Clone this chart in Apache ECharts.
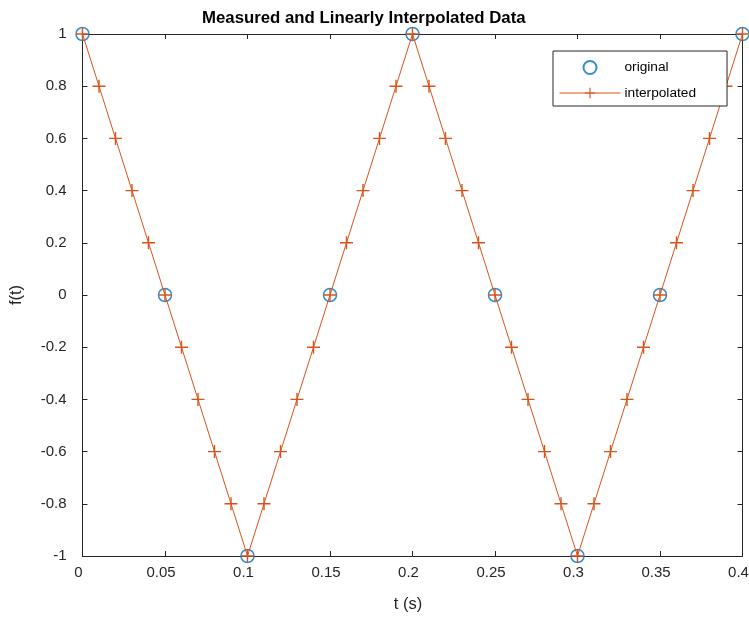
<!DOCTYPE html>
<html>
<head>
<meta charset="utf-8">
<script src="https://cdn.jsdelivr.net/npm/echarts@6/dist/echarts.min.js"></script>
<style>html,body{margin:0;padding:0;background:#fff}#c{width:749px;height:618px}</style>
</head>
<body>
<div id="c"></div>
<script>
var titleText = 'Measured and Linearly Interpolated Data';
var xName = 't (s)';
var yName = 'f(t)';
var seriesNames = ['original', 'interpolated'];

var tOriginal = [0, 0.05, 0.1, 0.15, 0.2, 0.25, 0.3, 0.35, 0.4];
var fOriginal = [1, 0, -1, 0, 1, 0, -1, 0, 1];

var tInterp = [0, 0.01, 0.02, 0.03, 0.04, 0.05, 0.06, 0.07, 0.08, 0.09,
               0.1, 0.11, 0.12, 0.13, 0.14, 0.15, 0.16, 0.17, 0.18, 0.19,
               0.2, 0.21, 0.22, 0.23, 0.24, 0.25, 0.26, 0.27, 0.28, 0.29,
               0.3, 0.31, 0.32, 0.33, 0.34, 0.35, 0.36, 0.37, 0.38, 0.39, 0.4];
var fInterp = [1, 0.8, 0.6, 0.4, 0.2, 0, -0.2, -0.4, -0.6, -0.8,
               -1, -0.8, -0.6, -0.4, -0.2, 0, 0.2, 0.4, 0.6, 0.8,
               1, 0.8, 0.6, 0.4, 0.2, 0, -0.2, -0.4, -0.6, -0.8,
               -1, -0.8, -0.6, -0.4, -0.2, 0, 0.2, 0.4, 0.6, 0.8, 1];

var xTicks = [0, 0.05, 0.1, 0.15, 0.2, 0.25, 0.3, 0.35, 0.4];
var yTicks = [-1, -0.8, -0.6, -0.4, -0.2, 0, 0.2, 0.4, 0.6, 0.8, 1];

var axisColor = '#262626';
var font = 'Liberation Sans, Arial, Helvetica, sans-serif';
var plusPath = 'path://M-0.65,-6 L0.65,-6 L0.65,-0.65 L6,-0.65 L6,0.65 L0.65,0.65 L0.65,6 L-0.65,6 L-0.65,0.65 L-6,0.65 L-6,-0.65 L-0.65,-0.65 Z';

function zip(a, b) { return a.map(function (v, i) { return [v, b[i]]; }); }
function fmt(v) { return String(+(+v).toFixed(3)); }

var chart = echarts.init(document.getElementById('c'), null, {renderer: 'canvas'});
var commonX = {
  type: 'value', min: xTicks[0], max: xTicks[xTicks.length - 1], interval: 0.05,
  splitLine: {show: false},
  axisLine: {show: true, onZero: false, lineStyle: {color: axisColor, width: 1}},
  axisTick: {show: true, inside: true, length: 5, lineStyle: {color: axisColor}},
};
var commonY = {
  type: 'value', min: yTicks[0], max: yTicks[yTicks.length - 1], interval: 0.2,
  splitLine: {show: false},
  axisLine: {show: true, onZero: false, lineStyle: {color: axisColor, width: 1}},
  axisTick: {show: true, inside: true, length: 5, lineStyle: {color: axisColor}},
};
chart.setOption({
  animation: false,
  backgroundColor: '#fff',
  title: {
    text: titleText, left: 197, top: 5,
    textStyle: {fontFamily: font, fontSize: 16.8, fontWeight: 'bold', color: '#000'}
  },
  grid: {left: 82.5, right: 6.5, top: 34, bottom: 62, containLabel: false, outerBoundsMode: 'none'},
  xAxis: [
    Object.assign({}, commonX, {
      position: 'bottom', name: xName, nameLocation: 'middle', nameGap: 40,
      nameTextStyle: {fontFamily: font, fontSize: 16.5, color: axisColor, padding: [0, 9, 0, 0]},
      axisLabel: {fontFamily: font, fontSize: 15, color: axisColor, margin: 9, padding: [0, 8, 0, 0], formatter: fmt}
    }),
    Object.assign({}, commonX, {position: 'top', axisLabel: {show: false}})
  ],
  yAxis: [
    Object.assign({}, commonY, {
      position: 'left', name: yName, nameLocation: 'middle', nameGap: 58,
      nameTextStyle: {fontFamily: font, fontSize: 16.5, color: axisColor},
      axisLabel: {fontFamily: font, fontSize: 15, color: axisColor, margin: 16, padding: [0, 0, 9, 0], formatter: fmt}
    }),
    Object.assign({}, commonY, {position: 'right', axisLabel: {show: false}})
  ],
  legend: {
    orient: 'vertical', left: 553, top: 51,
    padding: [9, 31, 6, 6],
    itemWidth: 61, itemHeight: 13, itemGap: 11,
    backgroundColor: '#fff', borderColor: axisColor, borderWidth: 1, borderRadius: 0,
    lineStyle: {width: 1},
    textStyle: {fontFamily: font, fontSize: 13.7, color: '#000', padding: [0, 0, 0, -1]},
    data: seriesNames
  },
  series: [
    {
      name: seriesNames[0], type: 'scatter', xAxisIndex: 0, yAxisIndex: 0,
      data: zip(tOriginal, fOriginal),
      symbol: 'circle', symbolSize: 13,
      itemStyle: {color: 'rgba(255,255,255,0)', borderColor: '#0072BD', borderWidth: 1.5},
      z: 2
    },
    {
      name: seriesNames[1], type: 'line', xAxisIndex: 0, yAxisIndex: 0,
      data: zip(tInterp, fInterp),
      symbol: plusPath, symbolSize: 13, showAllSymbol: true,
      lineStyle: {color: '#D95319', width: 1},
      itemStyle: {color: '#D95319'},
      z: 3
    }
  ]
});
</script>
</body>
</html>
